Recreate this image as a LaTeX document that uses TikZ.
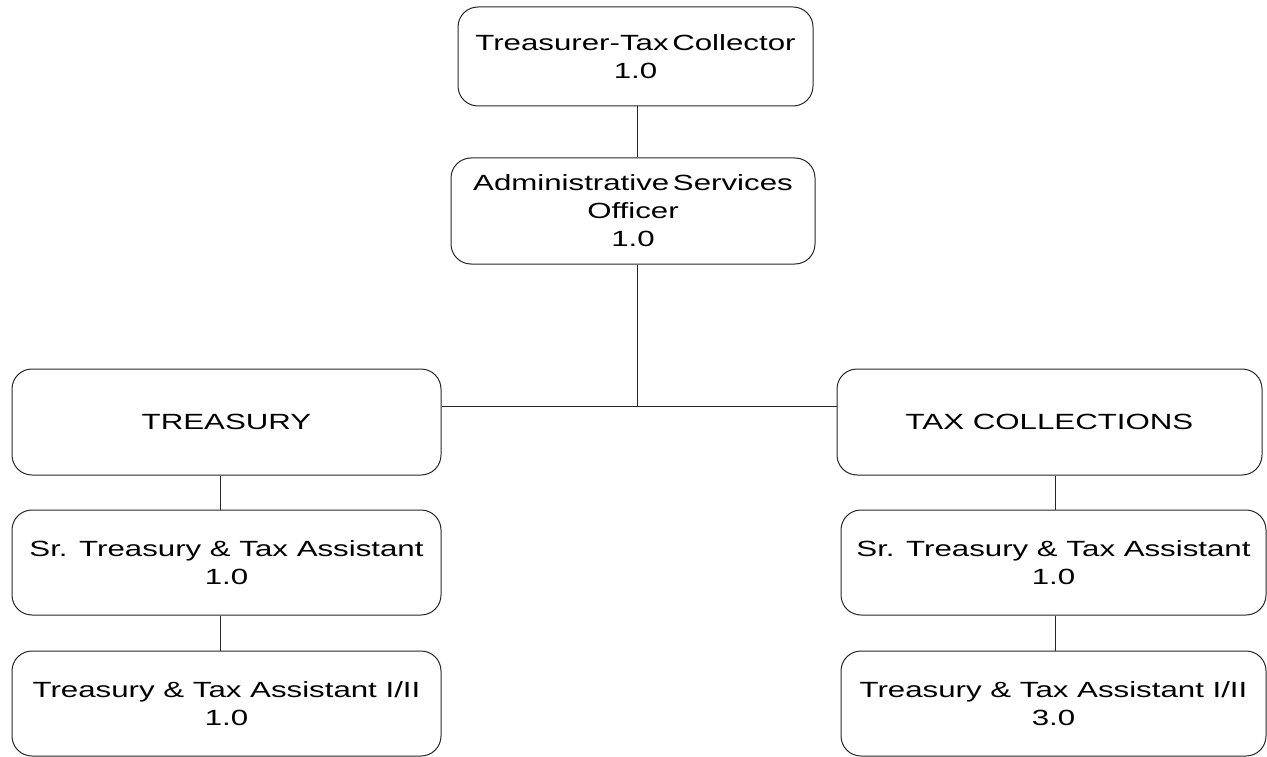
\documentclass[tikz,border=0pt]{standalone}
\usepackage{fontspec}
\setmainfont{Liberation Sans}[FakeStretch=1.42]
\usepackage{tikz}
\usetikzlibrary{positioning,calc}

\tikzset{
  unit/.style={draw=black!85, line width=1pt, rounded corners=20pt, align=center,
    inner sep=0pt, font=\fontsize{22}{28}\selectfont},
  link/.style={draw=black!85, line width=1pt}
}

\begin{document}
\begin{tikzpicture}[x=1pt, y=-1pt]
    \useasboundingbox (0,0) rectangle (1267,757);

    % Top of the chart
    \node[unit, minimum width=355pt, minimum height=99pt] (ttc) at (635.5,56.5) {Treasurer-Tax\,Collector\\1.0};
    \node[unit, minimum width=364pt, minimum height=106pt] (aso) at (633,211) {Administrative\,Services\\Officer\\1.0};

    % Divisions
    \node[unit, minimum width=429pt, minimum height=106pt] (treasury) at (226.5,422) {TREASURY};
    \node[unit, minimum width=425pt, minimum height=106pt] (taxcoll) at (1049.5,422) {TAX COLLECTIONS};

    % Treasury staff
    \node[unit, minimum width=429pt, minimum height=105pt] (srL) at (226.5,562.5) {Sr. Treasury \& Tax Assistant\\1.0};
    \node[unit, minimum width=429pt, minimum height=105pt] (ttL) at (226.5,703.5) {Treasury \& Tax Assistant I/II\\1.0};

    % Tax collections staff
    \node[unit, minimum width=425pt, minimum height=105pt] (srR) at (1053.5,562.5) {Sr. Treasury \& Tax Assistant\\1.0};
    \node[unit, minimum width=425pt, minimum height=105pt] (ttR) at (1053.5,703.5) {Treasury \& Tax Assistant I/II\\3.0};

    % Connectors
    \coordinate (hub) at (637,406);
    \coordinate (lcol) at (220,0);
    \coordinate (rcol) at (1055,0);

    \draw[link] (ttc.south -| hub) -- (aso.north -| hub);
    \draw[link] (aso.south -| hub) -- (hub);
    \draw[link] (treasury.east |- hub) -- (taxcoll.west |- hub);

    \draw[link] (treasury.south -| lcol) -- (srL.north -| lcol);
    \draw[link] (srL.south -| lcol) -- (ttL.north -| lcol);
    \draw[link] (taxcoll.south -| rcol) -- (srR.north -| rcol);
    \draw[link] (srR.south -| rcol) -- (ttR.north -| rcol);

\end{tikzpicture}
\end{document}
